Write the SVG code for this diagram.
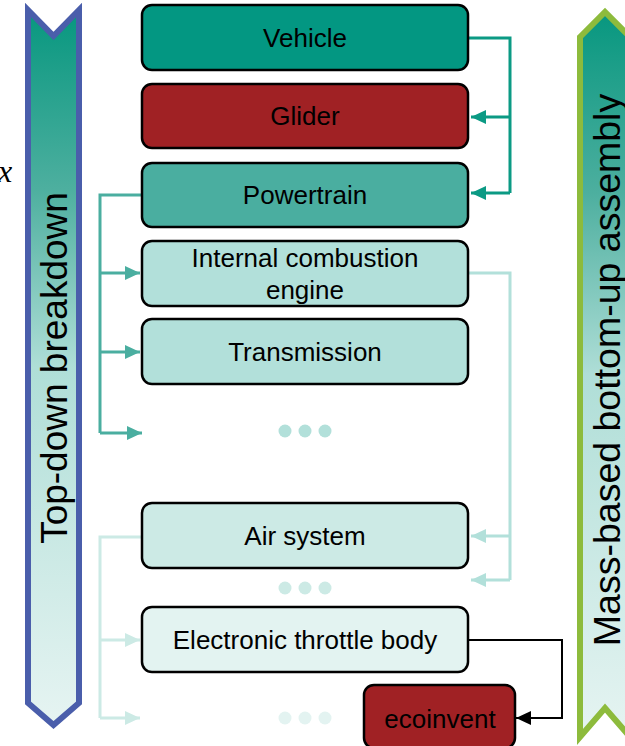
<svg xmlns="http://www.w3.org/2000/svg" width="625" height="746" viewBox="0 0 625 746">
<defs>
<linearGradient id="gBand" x1="0" y1="0" x2="0" y2="1">
<stop offset="0" stop-color="#07977f"/>
<stop offset="0.25" stop-color="#4daf9f"/>
<stop offset="0.5" stop-color="#afded7"/>
<stop offset="1" stop-color="#e6f4f2"/>
</linearGradient>
<marker id="mTeal" markerUnits="userSpaceOnUse" markerWidth="16" markerHeight="14" refX="15" refY="7" orient="auto"><path d="M0,0 L15,7 L0,14 Z" fill="#0b9a84"/></marker>
<marker id="mMid" markerUnits="userSpaceOnUse" markerWidth="16" markerHeight="14" refX="15" refY="7" orient="auto"><path d="M0,0 L15,7 L0,14 Z" fill="#4aaea0"/></marker>
<marker id="mLight" markerUnits="userSpaceOnUse" markerWidth="16" markerHeight="14" refX="15" refY="7" orient="auto"><path d="M0,0 L15,7 L0,14 Z" fill="#b2e0da"/></marker>
<marker id="mPale" markerUnits="userSpaceOnUse" markerWidth="16" markerHeight="14" refX="15" refY="7" orient="auto"><path d="M0,0 L15,7 L0,14 Z" fill="#cceae5"/></marker>
<marker id="mBlack" markerUnits="userSpaceOnUse" markerWidth="16" markerHeight="14" refX="15" refY="7" orient="auto"><path d="M0,0 L15,7 L0,14 Z" fill="#000000"/></marker>
</defs>
<style>
.box{stroke:#000;stroke-width:2.5}
.lbl{font-family:"Liberation Sans",Arial,sans-serif;font-size:26px;fill:#000;text-anchor:middle}
.band{font-family:"Liberation Sans",Arial,sans-serif;fill:#000;text-anchor:middle}
.c{fill:none;stroke-width:3}
</style>

<g id="left-band">
<path d="M28,10 L53.5,36 L79,10 L79,703 L53.5,725 L28,703 Z" fill="url(#gBand)" stroke="#4a5eab" stroke-width="6"/>
<text class="band" font-size="37" transform="translate(67,368) rotate(-90)">Top-down breakdown</text>
</g>
<g id="right-band">
<path d="M580,37 L605,12 L630,37 L630,737 L605,708 L580,737 Z" fill="url(#gBand)" stroke="#8dbb3c" stroke-width="6"/>
<text class="band" font-size="37.5" transform="translate(620,370) rotate(-90)">Mass-based bottom-up assembly</text>
</g>

<text x="-2" y="182" font-family="Liberation Serif,serif" font-style="italic" font-size="32" fill="#000">x</text>

<g id="connectors">
<path class="c" stroke="#0b9a84" d="M468,38 H510 V193"/>
<path class="c" stroke="#0b9a84" d="M510,117 H471" marker-end="url(#mTeal)"/>
<path class="c" stroke="#0b9a84" d="M510,193 H471" marker-end="url(#mTeal)"/>
<path class="c" stroke="#4aaea0" d="M142,195 H100 V433"/>
<path class="c" stroke="#4aaea0" d="M100,273 H140" marker-end="url(#mMid)"/>
<path class="c" stroke="#4aaea0" d="M100,352 H140" marker-end="url(#mMid)"/>
<path class="c" stroke="#4aaea0" d="M100,433 H142" marker-end="url(#mMid)"/>
<path class="c" stroke="#b2e0da" d="M468,273 H510 V580"/>
<path class="c" stroke="#b2e0da" d="M510,536 H471" marker-end="url(#mLight)"/>
<path class="c" stroke="#b2e0da" d="M510,580 H471" marker-end="url(#mLight)"/>
<path class="c" stroke="#cceae5" d="M142,537 H100 V718"/>
<path class="c" stroke="#cceae5" d="M100,640 H140" marker-end="url(#mPale)"/>
<path class="c" stroke="#cceae5" d="M100,718 H140" marker-end="url(#mPale)"/>
<path fill="none" stroke="#000" stroke-width="2" d="M468,640 H562 V718 H516" marker-end="url(#mBlack)"/>
</g>

<g id="vehicle"><rect class="box" x="142" y="5" width="326" height="65" rx="10" fill="#039782"/><text class="lbl" x="305" y="47">Vehicle</text></g>
<g id="glider"><rect class="box" x="142" y="84" width="326" height="64" rx="10" fill="#a02124"/><text class="lbl" x="305" y="125">Glider</text></g>
<g id="powertrain"><rect class="box" x="142" y="163" width="326" height="64" rx="10" fill="#4aaea0"/><text class="lbl" x="305" y="204">Powertrain</text></g>
<g id="ice"><rect class="box" x="142" y="241" width="326" height="65" rx="10" fill="#b2e0da"/><text class="lbl" x="305" y="267">Internal combustion</text><text class="lbl" x="305" y="299">engine</text></g>
<g id="transmission"><rect class="box" x="142" y="319" width="326" height="65" rx="10" fill="#b2e0da"/><text class="lbl" x="305" y="361">Transmission</text></g>
<g id="dots1" fill="#b2e0da"><circle cx="285" cy="431" r="6.5"/><circle cx="305" cy="431" r="6.5"/><circle cx="325" cy="431" r="6.5"/></g>
<g id="air"><rect class="box" x="142" y="503" width="326" height="65" rx="10" fill="#cceae5"/><text class="lbl" x="305" y="545">Air system</text></g>
<g id="dots2" fill="#cceae5"><circle cx="285" cy="588" r="6.5"/><circle cx="305" cy="588" r="6.5"/><circle cx="325" cy="588" r="6.5"/></g>
<g id="etb"><rect class="box" x="142" y="607" width="326" height="65" rx="10" fill="#e3f3f1"/><text class="lbl" x="305" y="649">Electronic throttle body</text></g>
<g id="dots3" fill="#e3f3f1"><circle cx="285" cy="718" r="6.5"/><circle cx="305" cy="718" r="6.5"/><circle cx="325" cy="718" r="6.5"/></g>
<g id="ecoinvent"><rect class="box" x="364" y="685" width="151" height="63" rx="10" fill="#a02124"/><text class="lbl" x="440" y="728">ecoinvent</text></g>
</svg>
